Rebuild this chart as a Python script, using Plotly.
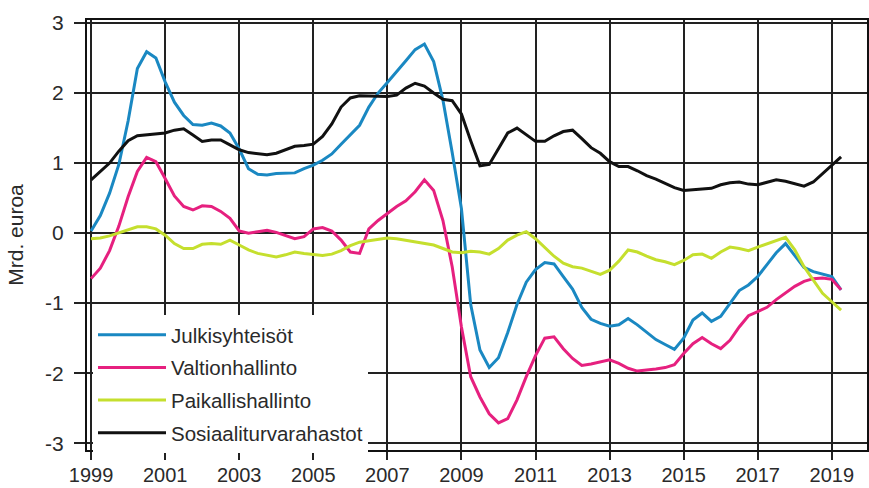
import plotly.graph_objects as go

# Quarterly observations, 1999Q1 ... 2019Q2
years = list(range(1999, 2020))
quarters = [(y, q) for y in years for q in range(4)][:82]
x_vals = [y + q / 4 for (y, q) in quarters]

julkisyhteisot = [
    0.03, 0.25, 0.57, 0.98,
    1.60, 2.35, 2.59, 2.50,
    2.16, 1.87, 1.68, 1.55,
    1.54, 1.57, 1.53, 1.43,
    1.20, 0.92, 0.84, 0.83,
    0.85, 0.85, 0.86, 0.92,
    0.97, 1.04, 1.13, 1.27,
    1.40, 1.54, 1.80, 2.00,
    2.15, 2.30, 2.46, 2.62,
    2.70, 2.45, 1.90, 1.15,
    0.35, -1.02, -1.67, -1.92,
    -1.78, -1.42, -1.02, -0.70,
    -0.52, -0.42, -0.44, -0.62,
    -0.80, -1.06, -1.23, -1.29,
    -1.33, -1.31, -1.22, -1.31,
    -1.42, -1.52, -1.59, -1.66,
    -1.50, -1.24, -1.14, -1.26,
    -1.19, -1.00, -0.82, -0.74,
    -0.62, -0.45, -0.28, -0.15,
    -0.32, -0.49, -0.55, -0.58,
    -0.62, -0.81,
]

valtionhallinto = [
    -0.65, -0.50, -0.25, 0.10,
    0.52, 0.88, 1.08, 1.02,
    0.78, 0.53, 0.38, 0.33,
    0.39, 0.38, 0.31, 0.21,
    0.03, 0.00, 0.02, 0.04,
    0.01, -0.03, -0.08, -0.05,
    0.06, 0.08, 0.03, -0.10,
    -0.27, -0.29, 0.06, 0.18,
    0.28, 0.38, 0.46, 0.59,
    0.76, 0.61, 0.18, -0.48,
    -1.34, -2.05, -2.34, -2.58,
    -2.71, -2.65, -2.38, -2.05,
    -1.75, -1.50, -1.48, -1.65,
    -1.79, -1.89, -1.87, -1.84,
    -1.81, -1.86, -1.93, -1.97,
    -1.96, -1.94, -1.92, -1.88,
    -1.72, -1.58, -1.49, -1.58,
    -1.65, -1.53, -1.34, -1.18,
    -1.12, -1.06, -0.95, -0.85,
    -0.76, -0.69, -0.65, -0.64,
    -0.66, -0.81,
]

paikallishallinto = [
    -0.08, -0.07, -0.04, 0.00,
    0.05, 0.09, 0.09, 0.06,
    -0.03, -0.15, -0.22, -0.22,
    -0.16, -0.15, -0.16, -0.10,
    -0.17, -0.24, -0.29, -0.32,
    -0.34, -0.31, -0.27, -0.29,
    -0.30, -0.32, -0.30, -0.25,
    -0.18, -0.13, -0.11, -0.09,
    -0.07, -0.08, -0.10, -0.13,
    -0.14, -0.17, -0.22, -0.27,
    -0.28, -0.26, -0.27, -0.30,
    -0.22, -0.10, -0.03, 0.02,
    -0.08, -0.21, -0.33, -0.43,
    -0.48, -0.50, -0.54, -0.59,
    -0.53, -0.40, -0.24, -0.27,
    -0.33, -0.38, -0.41, -0.45,
    -0.39, -0.31, -0.30, -0.36,
    -0.27, -0.20, -0.22, -0.25,
    -0.20, -0.15, -0.11, -0.06,
    -0.24, -0.48, -0.67, -0.86,
    -0.98, -1.10,
]

sosiaaliturvarahastot = [
    0.76, 0.88, 1.00, 1.17,
    1.32, 1.39, 1.40, 1.41,
    1.43, 1.47, 1.49, 1.40,
    1.31, 1.33, 1.33, 1.26,
    1.19, 1.15, 1.14, 1.12,
    1.14, 1.19, 1.24, 1.25,
    1.27, 1.38, 1.56, 1.80,
    1.93, 1.96, 1.96, 1.95,
    1.95, 1.97, 2.07, 2.14,
    2.10, 2.00, 1.91, 1.89,
    1.70, 1.32, 0.96, 0.98,
    1.21, 1.43, 1.50, 1.41,
    1.31, 1.31, 1.39, 1.45,
    1.47, 1.35, 1.22, 1.14,
    1.02, 0.95, 0.95, 0.89,
    0.82, 0.77, 0.71, 0.65,
    0.61, 0.62, 0.63, 0.64,
    0.69, 0.72, 0.73, 0.70,
    0.69, 0.72, 0.76, 0.74,
    0.70, 0.67, 0.73, 0.85,
    0.97, 1.09,
]

series_names = ["Julkisyhteisöt", "Valtionhallinto", "Paikallishallinto", "Sosiaaliturvarahastot"]
series_values = [julkisyhteisot, valtionhallinto, paikallishallinto, sosiaaliturvarahastot]
series_colors = ["#1a88c2", "#e6207f", "#c5df2e", "#111111"]

x_tick_vals = [1999, 2001, 2003, 2005, 2007, 2009, 2011, 2013, 2015, 2017, 2019]
x_tick_text = ["1999", "2001", "2003", "2005", "2007", "2009", "2011", "2013", "2015", "2017", "2019"]
y_tick_vals = [-3, -2, -1, 0, 1, 2, 3]
y_tick_text = ["-3", "-2", "-1", "0", "1", "2", "3"]
y_title = "Mrd. euroa"

FONT = "Liberation Sans, Arial, sans-serif"
TXT = "#2a2a2a"

fig = go.Figure()
for i, (name, vals, col) in enumerate(zip(series_names, series_values, series_colors)):
    fig.add_trace(go.Scatter(
        x=x_vals, y=vals, mode="lines", name=name,
        legendgroup=f"g{i}",
        line=dict(color=col, width=3),
    ))

fig.update_layout(
    width=869, height=488, autosize=False,
    margin=dict(l=87, r=2, t=20, b=38, autoexpand=False),
    paper_bgcolor="white", plot_bgcolor="white",
    font=dict(family=FONT, color=TXT, size=21),
    showlegend=True,
    legend=dict(
        x=0.0077, y=0.314, xanchor="left", yanchor="top",
        bgcolor="white", borderwidth=0,
        font=dict(family=FONT, size=20.5, color=TXT),
        traceorder="grouped", tracegroupgap=3,
        itemwidth=68,
    ),
    xaxis=dict(
        range=[1998.89, 2019.95],
        tickvals=x_tick_vals, ticktext=x_tick_text,
        showgrid=True, gridcolor="#222222", gridwidth=1.5,
        zeroline=False, automargin=False,
        showline=True, linecolor="#111111", linewidth=2, mirror=True,
        ticks="outside", ticklen=8, tickwidth=1.5, tickcolor="#222222",
        tickfont=dict(size=20, color=TXT),
        ticklabelstandoff=-2,
    ),
    yaxis=dict(
        range=[-3.097, 3.043],
        tickvals=y_tick_vals, ticktext=y_tick_text,
        showgrid=True, gridcolor="#222222", gridwidth=1.5,
        zeroline=False, automargin=False,
        showline=True, linecolor="#111111", linewidth=2, mirror=True,
        ticks="outside", ticklen=11, tickwidth=1.5, tickcolor="#222222",
        tickfont=dict(size=21, color=TXT),
        ticklabelstandoff=6,
        title=dict(text=y_title, font=dict(size=21, color=TXT), standoff=16),
    ),
)

fig.write_html(
    "out.html",
    config={"displayModeBar": False},
    post_script="document.body.style.margin='0';",
)
